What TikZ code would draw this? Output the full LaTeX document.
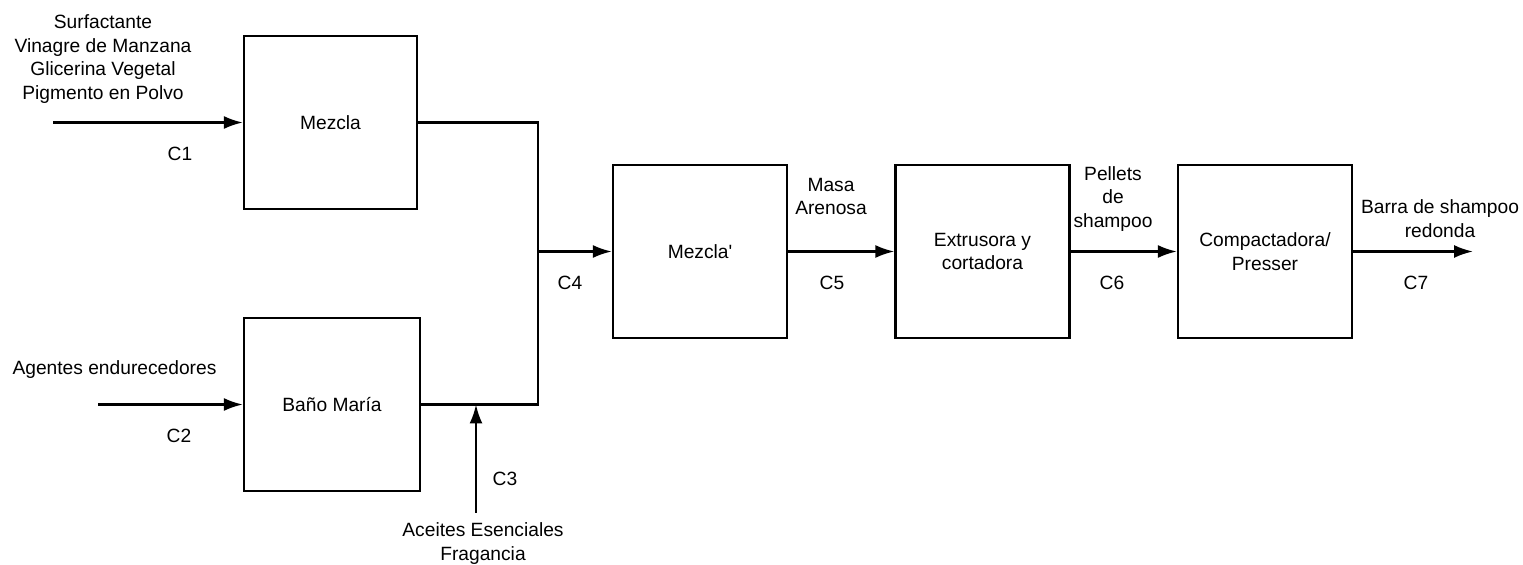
\documentclass[tikz,border=0pt]{standalone}
\usepackage{fontspec}
\setmainfont{Liberation Sans}
\usepackage{tikz}
\usetikzlibrary{positioning,arrows.meta}

\begin{document}
\begin{tikzpicture}[>={Latex[length=19bp,width=13bp]},line join=miter,line width=2.3bp,
  proceso/.style={draw,black,minimum width=174bp,minimum height=173bp,align=center,inner sep=0pt},
  etiqueta/.style={draw=none,align=center,inner sep=0pt},
  font=\fontsize{19.2bp}{23.5bp}\selectfont]
%%
\useasboundingbox (0bp,0bp) rectangle (1523bp,565bp);
  \node (mezcla) at (330.5bp,442.5bp) [proceso,minimum width=173bp] {Mezcla};
  \node (bano) at (332bp,160.5bp) [proceso,minimum width=176bp] {Baño María};
  \node (mezclab) at (700bp,313.5bp) [proceso] {Mezcla\textquotesingle};
  \node (extrusora) at (982.5bp,313.5bp) [proceso] {Extrusora y\\cortadora};
  \node (compactadora) at (1265bp,313.5bp) [proceso] {Compactadora/\\Presser};
  \node (insumos) at (103bp,506bp) [etiqueta] {Surfactante\\Vinagre de Manzana\\Glicerina Vegetal\\Pigmento en Polvo};
  \node (agentes) at (114.5bp,195bp) [etiqueta] {Agentes endurecedores};
  \node (aceites) at (483bp,21.5bp) [etiqueta] {Aceites Esenciales\\Fragancia};
  \node (masa) at (831bp,368.5bp) [etiqueta] {Masa\\Arenosa};
  \node (pellets) at (1113bp,366bp) [etiqueta] {Pellets\\de\\shampoo};
  \node (barra) at (1440bp,346.5bp) [etiqueta] {Barra de shampoo\\redonda};
  \node (c1) at (180bp,411bp) [etiqueta] {C1};
  \node (c2) at (179bp,129bp) [etiqueta] {C2};
  \node (c3) at (505bp,86bp) [etiqueta] {C3};
  \node (c4) at (570bp,282bp) [etiqueta] {C4};
  \node (c5) at (832bp,282bp) [etiqueta] {C5};
  \node (c6) at (1112bp,282bp) [etiqueta] {C6};
  \node (c7) at (1416bp,282bp) [etiqueta] {C7};
  \coordinate (c1in) at (53bp,442.5bp);
  \coordinate (c2in) at (98bp,160.5bp);
  \coordinate (c3in) at (476bp,52bp);
  \coordinate (c3end) at (476bp,160.5bp);
  \coordinate (ja) at (538bp,442.5bp);
  \coordinate (jb) at (538bp,160.5bp);
  \coordinate (jm) at (538bp,313.5bp);
  \coordinate (c7out) at (1473bp,313.5bp);
  \draw [black,->] (c1in) -- (mezcla);
  \draw [black,->] (c2in) -- (bano);
  \draw [black] (mezcla.east) -- (ja) -- (jb) -- (bano.east);
  \draw [black,->] (c3in) -- (c3end);
  \draw [black,->] (jm) -- (mezclab);
  \draw [black,->] (mezclab) -- (extrusora);
  \draw [black,->] (extrusora) -- (compactadora);
  \draw [black,->] (compactadora) -- (c7out);
%
\end{tikzpicture}
\end{document}
